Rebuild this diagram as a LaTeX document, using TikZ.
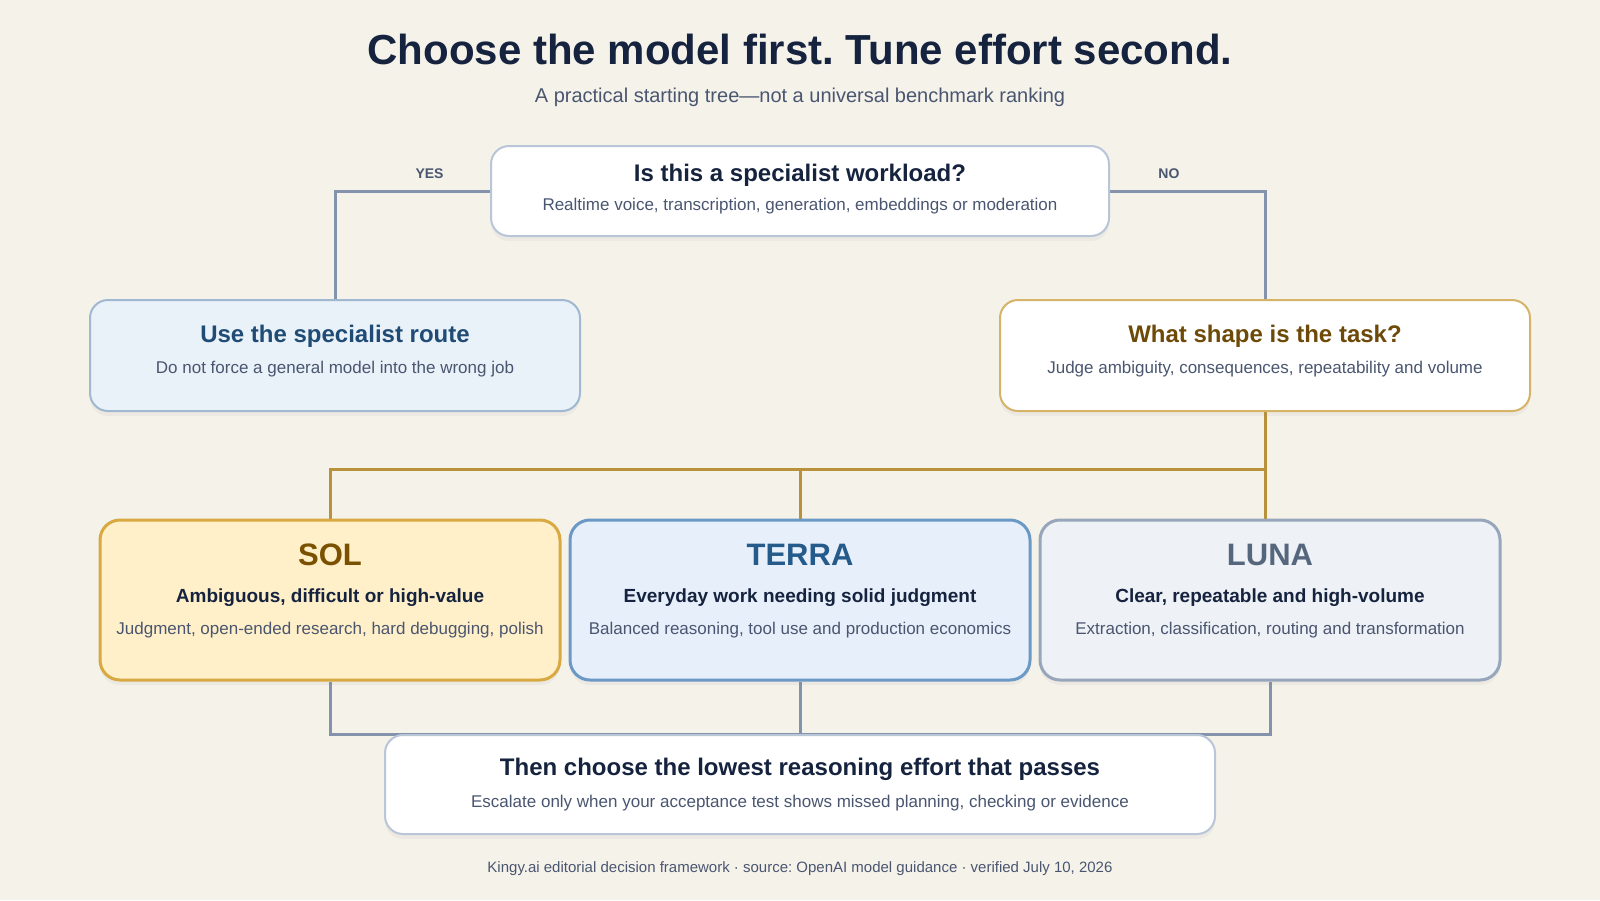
\documentclass[tikz,border=0pt]{standalone}
\usepackage{fontspec}
\setmainfont{Liberation Sans}
\usepackage{xcolor}
\usetikzlibrary{positioning,shadows}
\frenchspacing

\definecolor{paper}{HTML}{F5F2EA}
\definecolor{ink}{HTML}{16233F}
\definecolor{bodytext}{HTML}{4A5670}
\definecolor{steel}{HTML}{8493AB}
\definecolor{cardline}{HTML}{B8C6D8}
\definecolor{routefill}{HTML}{E9F1F9}
\definecolor{routeline}{HTML}{A0B8D0}
\definecolor{routetext}{HTML}{1F4B74}
\definecolor{shapeline}{HTML}{D5B468}
\definecolor{shapetext}{HTML}{6D4A08}
\definecolor{goldline}{HTML}{B8913A}
\definecolor{solfill}{HTML}{FFF0C9}
\definecolor{solline}{HTML}{D9A941}
\definecolor{soltext}{HTML}{7A5100}
\definecolor{terrafill}{HTML}{E7EFFA}
\definecolor{terraline}{HTML}{6B99C6}
\definecolor{terratext}{HTML}{255B8A}
\definecolor{lunafill}{HTML}{EEF1F5}
\definecolor{lunaline}{HTML}{97A6BA}
\definecolor{lunatext}{HTML}{56677D}

\newcommand\cardhead{\fontsize{12}{14}\selectfont\bfseries}
\newcommand\modelname{\fontsize{15.5}{18}\selectfont\bfseries}
\newcommand\modeltag{\fontsize{9.5}{11}\selectfont\bfseries\color{ink}}

\pgfdeclarelayer{back}
\pgfsetlayers{back,main}

\begin{document}
\begin{tikzpicture}[
  x=0.5pt, y=-0.5pt,
  font=\fontsize{8.5}{10}\selectfont,
  card/.style={draw=cardline, fill=white, rounded corners=9pt,
    line width=1pt, align=center, inner sep=0pt, text=bodytext,
    drop shadow={shadow xshift=0pt, shadow yshift=-2.5pt, opacity=0.07}},
  model/.style={card, line width=1.5pt, rounded corners=10pt,
    minimum width=230pt, minimum height=80pt, text depth=10.7pt},
  link/.style={draw=steel, line width=1.5pt},
  goldlink/.style={link, draw=goldline},
  answer/.style={font=\fontsize{7}{8}\selectfont\bfseries, text=bodytext}
]
\useasboundingbox (0,0) rectangle (1600,900);
\begin{pgfonlayer}{back}
\fill[paper] (0,0) rectangle (1600,900);
\end{pgfonlayer}

\node[font=\fontsize{21}{25}\selectfont\bfseries, text=ink] (title) at (800,49)
  {Choose the model first. Tune effort second.};
\node[font=\fontsize{10}{12}\selectfont, text=bodytext] (subtitle) at (800,97)
  {A practical starting tree---not a universal benchmark ranking};

\node[card, minimum width=309pt, minimum height=45pt, text depth=3.7pt]
  (workload) at (800,191) {
  \cardhead\color{ink}Is this a specialist workload?\\[4.6pt]
  Realtime voice, transcription, generation, embeddings or moderation
};
\node[card, fill=routefill, draw=routeline, minimum width=245pt,
  minimum height=55.5pt, text depth=6.2pt] (route) at (335,355.5) {
  \cardhead\color{routetext}Use the specialist route\\[5.6pt]
  Do not force a general model into the wrong job
};
\node[card, draw=shapeline, minimum width=265pt, minimum height=55.5pt,
  text depth=6.2pt] (task) at (1265,355.5) {
  \cardhead\color{shapetext}What shape is the task?\\[5.6pt]
  Judge ambiguity, consequences, repeatability and volume
};

\node[model, fill=solfill, draw=solline] (sol) at (330,600) {
  \modelname\color{soltext}SOL\\[8.3pt]
  \modeltag Ambiguous, difficult or high-value\\[6pt]
  Judgment, open-ended research, hard debugging, polish
};
\node[model, fill=terrafill, draw=terraline] (terra) at (800,600) {
  \modelname\color{terratext}TERRA\\[8.3pt]
  \modeltag Everyday work needing solid judgment\\[6pt]
  Balanced reasoning, tool use and production economics
};
\node[model, fill=lunafill, draw=lunaline] (luna) at (1270,600) {
  \modelname\color{lunatext}LUNA\\[8.3pt]
  \modeltag Clear, repeatable and high-volume\\[6pt]
  Extraction, classification, routing and transformation
};

\node[card, minimum width=415pt, minimum height=49.5pt] (effort) at (800,784.5) {
  \cardhead\color{ink}Then choose the lowest reasoning effort that passes\\[6.1pt]
  Escalate only when your acceptance test shows missed planning, checking or evidence
};

\node[font=\fontsize{7.5}{9}\selectfont, text=bodytext] (footer) at (800,869)
  {Kingy.ai editorial decision framework \textperiodcentered{} source: OpenAI model guidance \textperiodcentered{} verified July 10, 2026};

\begin{pgfonlayer}{back}
\draw[link] (workload.west) -| node[answer, pos=0.195, above=2pt] {YES} (route.north);
\draw[link] (workload.east) -| node[answer, pos=0.19, above=2pt] {NO} (task.north);
\coordinate (fork) at (task.south |- 0,469);
\draw[goldlink] (task.south) -- (task.south |- luna.north);
\draw[goldlink] (fork) -| (sol.north);
\draw[goldlink] (terra.north) -- (terra.north |- fork);
\draw[link] (sol.south) |- (luna.south |- effort.north) -- (luna.south);
\draw[link] (terra.south) -- (effort.north);
\end{pgfonlayer}
\end{tikzpicture}
\end{document}
